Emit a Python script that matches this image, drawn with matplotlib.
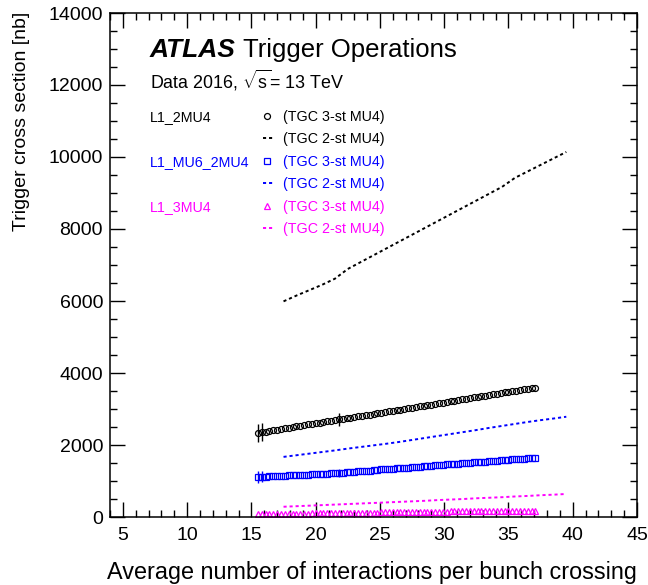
import matplotlib
matplotlib.use("Agg")
import matplotlib.pyplot as plt
from matplotlib.ticker import MultipleLocator
import numpy as np

plt.rcParams["font.family"] = ["Liberation Sans", "DejaVu Sans"]
plt.rcParams["mathtext.fontset"] = "custom"
plt.rcParams["mathtext.rm"] = "Liberation Sans"
plt.rcParams["mathtext.it"] = "Liberation Sans:italic"

# <mu> bins for the TGC 3-station points
mu_pts = np.round(np.arange(15.5, 37.15, 0.3), 1)

xs_2mu4_3st = [
    2340, 2365, 2350, 2390, 2405, 2425, 2445, 2460, 2480, 2500,
    2515, 2535, 2550, 2570, 2585, 2605, 2620, 2640, 2655, 2675,
    2690, 2710, 2725, 2745, 2760, 2780, 2795, 2810, 2830, 2845,
    2865, 2880, 2900, 2915, 2935, 2950, 2970, 2985, 3005, 3020,
    3040, 3055, 3075, 3090, 3110, 3125, 3145, 3160, 3180, 3195,
    3215, 3230, 3250, 3265, 3285, 3300, 3320, 3335, 3355, 3370,
    3390, 3405, 3425, 3440, 3460, 3475, 3495, 3510, 3530, 3545,
    3565, 3580, 3595,
]
xs_mu62mu4_3st = [
    1110, 1115, 1120, 1130, 1130, 1140, 1145, 1150, 1155, 1160,
    1165, 1170, 1175, 1180, 1185, 1190, 1195, 1200, 1205, 1215,
    1220, 1225, 1235, 1240, 1250, 1260, 1265, 1275, 1285, 1290,
    1300, 1310, 1320, 1325, 1335, 1345, 1350, 1360, 1370, 1375,
    1385, 1395, 1400, 1410, 1420, 1425, 1435, 1445, 1450, 1460,
    1470, 1475, 1485, 1490, 1500, 1510, 1515, 1525, 1535, 1540,
    1550, 1555, 1565, 1575, 1580, 1590, 1600, 1605, 1615, 1620,
    1630, 1640, 1645,
]
xs_3mu4_3st = [
    70, 75, 75, 80, 80, 85, 85, 85, 90, 90,
    90, 95, 95, 95, 100, 100, 100, 105, 105, 105,
    110, 110, 110, 115, 115, 115, 120, 120, 120, 125,
    125, 125, 130, 130, 130, 135, 135, 135, 135, 140,
    140, 140, 145, 145, 145, 145, 150, 150, 150, 150,
    155, 155, 155, 155, 160, 160, 160, 160, 160, 165,
    165, 165, 165, 165, 170, 170, 170, 170, 170, 175,
    175, 175, 175,
]
# statistical errors (only visible on a few low-stat bins)
err_2mu4_3st = np.zeros(len(mu_pts))
err_2mu4_3st[[0, 1, 21]] = [250, 250, 180]
err_mu62mu4_3st = np.zeros(len(mu_pts))
err_mu62mu4_3st[[0, 1, 21]] = [170, 150, 100]

# TGC 2-station curves
mu_line = [17.5, 18.5, 19.5, 20.5, 21.5, 22.5, 23.5, 24.5, 25.5, 26.5, 27.5, 28.5,
           29.5, 30.5, 31.5, 32.5, 33.5, 34.5, 35.5, 36.5, 37.5, 38.5, 39.5]
xs_2mu4_2st = [5990, 6150, 6300, 6450, 6620, 6890, 7080, 7270, 7460, 7650, 7840, 8030,
               8220, 8410, 8600, 8790, 8980, 9170, 9420, 9600, 9780, 9960, 10140]
xs_mu62mu4_2st = [1670, 1715, 1760, 1805, 1850, 1900, 1945, 1990, 2035, 2085, 2140, 2195,
                  2250, 2305, 2360, 2415, 2475, 2530, 2585, 2640, 2690, 2735, 2785]
xs_3mu4_2st = [285, 300, 315, 330, 345, 360, 375, 390, 405, 420, 435, 450,
               470, 485, 500, 520, 535, 550, 570, 585, 605, 620, 640]

triggers = ["L1_2MU4", "L1_MU6_2MU4", "L1_3MU4"]
colors = ["black", "#0000ff", "#ff00ff"]
markers = ["o", "s", "^"]

fig = plt.figure(figsize=(6.48, 5.85), dpi=100)
ax = fig.add_axes([110 / 648, 68 / 585, 527 / 648, 504 / 585])

dash = (0, (1.6, 1.5))
pts = [xs_2mu4_3st, xs_mu62mu4_3st, xs_3mu4_3st]
errs = [err_2mu4_3st, err_mu62mu4_3st, np.zeros(len(mu_pts))]
lines = [xs_2mu4_2st, xs_mu62mu4_2st, xs_3mu4_2st]
for y, e, yl, c, m in zip(pts, errs, lines, colors, markers):
    ax.errorbar(mu_pts, y, yerr=e, fmt=m, ms=4.3, mfc="none", mec=c, mew=0.9,
                ecolor=c, elinewidth=1, capsize=0)
    ax.plot(mu_line, yl, color=c, lw=1.4, ls=dash)

ax.set_xlim(4, 45)
ax.set_ylim(0, 14000)
ax.xaxis.set_major_locator(MultipleLocator(5))
ax.xaxis.set_minor_locator(MultipleLocator(1))
ax.yaxis.set_major_locator(MultipleLocator(2000))
ax.yaxis.set_minor_locator(MultipleLocator(500))
ax.tick_params(which="both", direction="in", top=True, right=True, labelsize=14,
               width=1)
ax.tick_params(which="major", length=11)
ax.tick_params(which="minor", length=5)
ax.tick_params(axis="y", pad=5)
ax.tick_params(axis="x", pad=7)
for s in ax.spines.values():
    s.set_linewidth(1.1)

fig.text(22 / 648, 1 - 12 / 585, "Trigger cross section [nb]", rotation=90,
         ha="center", va="top", fontsize=14)
fig.text(637 / 648, 1 - 579 / 585, "Average number of interactions per bunch crossing",
         ha="right", va="baseline", fontsize=16.8)

ax.text(0.0759, 0.9127, "ATLAS", transform=ax.transAxes, fontsize=19,
        fontweight="bold", fontstyle="italic", va="baseline")
ax.text(0.2524, 0.9127, "Trigger Operations", transform=ax.transAxes,
        fontsize=18.5, va="baseline")
ax.text(0.0759, 0.851, r"Data 2016, $\sqrt{\mathrm{s}}$= 13 TeV",
        transform=ax.transAxes, fontsize=12.9, va="baseline")

rows = [0.7857, 0.7427, 0.6964, 0.6534, 0.6071, 0.5641]
for i, (name, c, m) in enumerate(zip(triggers, colors, markers)):
    y3, y2 = rows[2 * i], rows[2 * i + 1]
    ax.text(0.0759, y3, name, color=c, fontsize=10.3, va="baseline",
            transform=ax.transAxes)
    ax.plot([0.298], [y3 + 0.009], m, ms=4.3, mfc="none", mec=c, mew=0.9,
            transform=ax.transAxes, clip_on=False)
    ax.plot([0.290, 0.309], [y2 + 0.009] * 2, color=c, lw=1.4, ls=dash,
            transform=ax.transAxes, clip_on=False)
    ax.text(0.328, y3, "(TGC 3-st MU4)", color=c, fontsize=10.3, va="baseline",
            transform=ax.transAxes)
    ax.text(0.328, y2, "(TGC 2-st MU4)", color=c, fontsize=10.3, va="baseline",
            transform=ax.transAxes)

fig.savefig("out.png", dpi=100)
